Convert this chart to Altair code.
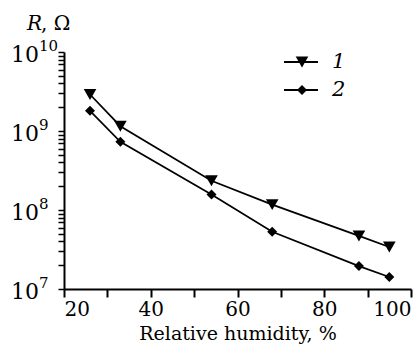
import altair as alt
import pandas as pd

# data
hum1 = [26, 33, 54, 68, 88, 95]
R1 = [2.9e9, 1.15e9, 2.35e8, 1.17e8, 4.7e7, 3.4e7]
hum2 = [26, 33, 54, 68, 88, 95]
R2 = [1.8e9, 7.3e8, 1.57e8, 5.3e7, 1.95e7, 1.42e7]

x_ticks = [20, 30, 40, 50, 60, 70, 80, 90, 100]
y_major = [1e7, 1e8, 1e9, 1e10]
y_exp = ["7", "8", "9", "10"]
y_minor = [m * 10 ** e for e in (7, 8, 9) for m in range(2, 10)]

FONT = "DejaVu Serif"
W, H = 347, 237

df1 = pd.DataFrame({"h": hum1, "R": R1})
df2 = pd.DataFrame({"h": hum2, "R": R2})
dmaj = pd.DataFrame({"R": y_major, "e": y_exp})

xs = alt.Scale(domain=[20, 100], nice=False, zero=False)
ys = alt.Scale(type="log", domain=[1e7, 1e10], nice=False)

xax = alt.Axis(values=x_ticks, labelExpr="datum.value % 20 == 0 ? datum.label : ''",
               tickSize=8, tickWidth=2, domainWidth=2, domainColor="black", tickColor="black",
               labelFont=FONT, labelFontSize=20, labelColor="black", labelPadding=2,
               grid=False, title="Relative humidity, %", titleFont=FONT, titleFontSize=19,
               titleFontWeight="normal", titleColor="black", titlePadding=5)
yax = alt.Axis(values=y_minor + y_major, labels=False, tickSize=6, tickWidth=1.5,
               domainWidth=2, domainColor="black", tickColor="black", grid=False, title=None)

base_x = alt.X("h:Q", scale=xs, axis=xax)
base_y = alt.Y("R:Q", scale=ys, axis=yax)

line1 = alt.Chart(df1).mark_line(color="black", strokeWidth=1.7).encode(x=base_x, y=base_y)
line2 = alt.Chart(df2).mark_line(color="black", strokeWidth=1.7).encode(x="h:Q", y="R:Q")
pt1 = alt.Chart(df1).mark_point(shape="triangle-down", filled=True, color="black", size=160, opacity=1).encode(x="h:Q", y="R:Q")
pt2 = alt.Chart(df2).mark_point(shape="diamond", filled=True, color="black", size=100, opacity=1).encode(x="h:Q", y="R:Q")

lab10 = alt.Chart(dmaj).mark_text(text="10", font=FONT, fontSize=22, align="left", baseline="middle",
                                  color="black", dy=3).encode(x=alt.value(-53), y="R:Q")
labe = alt.Chart(dmaj).mark_text(font=FONT, fontSize=15, align="left", baseline="middle",
                                 color="black", dy=-6).encode(x=alt.value(-25), y="R:Q", text="e:N")

# y-axis title "R, Ω"
ttlR = alt.Chart(dmaj.head(1)).mark_text(text="R", font=FONT, fontSize=20, fontStyle="italic",
                                         align="left", baseline="alphabetic", color="black").encode(
    x=alt.value(-37), y=alt.value(-22))
ttlO = alt.Chart(dmaj.head(1)).mark_text(text=", Ω", font=FONT, fontSize=20,
                                         align="left", baseline="alphabetic", color="black").encode(
    x=alt.value(-23), y=alt.value(-22))

# custom legend
leg = []
for (yy, shape, size, lab) in [(10, "triangle-down", 160, "1"), (38, "diamond", 100, "2")]:
    d = pd.DataFrame({"s": [lab]})
    leg.append(alt.Chart(d).mark_rule(color="black", strokeWidth=2).encode(
        x=alt.value(220), x2=alt.value(254), y=alt.value(yy)))
    leg.append(alt.Chart(d).mark_point(shape=shape, filled=True, color="black", size=size, opacity=1).encode(
        x=alt.value(238), y=alt.value(yy)))
    leg.append(alt.Chart(d).mark_text(font=FONT, fontSize=21, fontStyle="italic", align="left",
                                      baseline="middle", color="black").encode(
        x=alt.value(268), y=alt.value(yy), text="s:N"))

chart = alt.layer(line1, line2, pt1, pt2, lab10, labe, ttlR, ttlO, *leg).properties(
    width=W, height=H,
    autosize=alt.AutoSizeParams(type="none"),
    padding={"left": 64, "top": 52, "right": 9, "bottom": 60},
    background="white",
).configure_view(stroke=None)

chart.save("out.html", embed_options={"renderer": "svg", "actions": False})
